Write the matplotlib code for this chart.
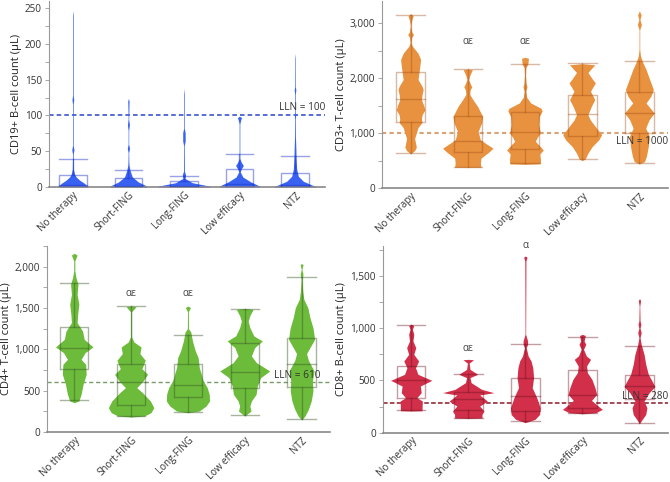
import matplotlib
matplotlib.use("Agg")
import matplotlib.pyplot as plt
import matplotlib.transforms as mtransforms
from matplotlib.ticker import FuncFormatter, MultipleLocator

plt.rcParams["font.family"] = ["Open Sans", "DejaVu Sans"]

groups = ["No therapy", "Short-FING", "Long-FING", "Low efficacy", "NTZ"]

# violin outlines: (count, relative half width)
cd19_shape = [
    [(247, 0), (240, .006), (128, .006), (122, .016), (116, .006), (58, .006), (52, .02), (46, .006),
     (25, .01), (18, .03), (14, .06), (9.7, .12), (5, .21), (1.4, .25), (0, .25)],
    [(124, 0), (120, .012), (95, .005), (87, .018), (79, .005), (60, .005), (54, .02), (48, .005),
     (35, .008), (30, .012), (23, .03), (14, .07), (7, .18), (1.4, .33), (0, .33)],
    [(138, 0), (130, .006), (82, .006), (76, .022), (64, .022), (58, .006), (22, .008), (17, .03),
     (12, .02), (6, .15), (3, .35), (1, .47), (0, .47)],
    [(99, 0), (97, .036), (93, .02), (88, .006), (40, .006), (35, .03), (30, .07), (25, .03),
     (21, .015), (14, .06), (7.3, .2), (1.4, .36), (0, .36)],
    [(187, 0), (180, .005), (140, .006), (136, .015), (130, .006), (104, .006), (100, .012), (95, .006),
     (70, .008), (55, .015), (40, .02), (25, .03), (15, .06), (8, .15), (3, .3), (0, .39)],
]
cd19_box = [(0, 0, 3, 17, 39), (0, 0, 2, 13, 24), (0, 0, 1, 8, 16), (0, 0, 4, 25, 46), (0, 0, 3, 19, 44)]

cd3_shape = [
    [(3170, 0), (3130, .044), (3050, .02), (2950, .006), (2840, .02), (2790, .05), (2740, .02), (2640, .01),
     (2580, .03), (2450, .13), (2337, .175), (2200, .16), (1972, .13), (1850, .2), (1789, .22), (1700, .2),
     (1606, .19), (1500, .23), (1420, .25), (1330, .2), (1250, .19), (1190, .2), (1100, .13), (998, .1),
     (900, .07), (800, .09), (740, .1), (680, .07), (620, 0)],
    [(2160, 0), (2150, .08), (2060, .04), (1972, .015), (1880, .05), (1840, .07), (1780, .04), (1700, .035),
     (1606, .09), (1485, .17), (1302, .26), (1180, .24), (1028, .18), (875, .22), (724, .44), (663, .38),
     (542, .23), (450, .22), (389, .23), (377, .23), (375, 0)],
    [(2375, 0), (2360, .06), (2250, .05), (2190, .015), (2050, .008), (1900, .02), (1840, .035), (1760, .015),
     (1650, .03), (1546, .1), (1450, .28), (1400, .3), (1300, .25), (1150, .24), (1000, .27), (930, .22),
     (850, .18), (740, .28), (690, .32), (620, .26), (520, .27), (440, .27), (430, 0)],
    [(2260, 0), (2240, .22), (2100, .1), (1985, .175), (1911, .23), (1760, .145), (1606, .22), (1485, .16),
     (1333, .1), (1241, .14), (1089, .25), (968, .34), (876, .29), (754, .175), (633, .1), (523, .05),
     (500, 0)],
    [(3220, 0), (3150, .03), (3060, .01), (2970, .035), (2880, .006), (2519, .006), (2397, .02),
     (2306, .05), (2154, .116), (1971, .18), (1789, .245), (1667, .2), (1545, .116), (1363, .26),
     (1241, .17), (1089, .11), (937, .175), (754, .155), (572, .122), (480, .09), (438, 0)],
]
cd3_box = [(633, 1193, 1618, 2106, 3140), (380, 663, 862, 1302, 2160), (450, 706, 1010, 1380, 2260),
           (523, 950, 1338, 1683, 2270), (460, 998, 1363, 1744, 2317)]

cd4_shape = [
    [(2162, 0), (2140, .05), (2070, .01), (1950, .01), (1868, .03), (1787, .065), (1666, .05), (1545, .08),
     (1424, .06), (1323, .05), (1222, .145), (1121, .175), (1029, .33), (960, .19), (879, .12), (819, .2),
     (698, .21), (577, .155), (456, .12), (375, .08), (355, 0)],
    [(1524, 0), (1515, .088), (1456, .01), (1150, .01), (1089, .05), (1029, .175), (948, .155), (867, .25),
     (766, .19), (698, .29), (617, .21), (536, .1), (476, .2), (375, .34), (294, .4), (234, .35),
     (193, .23), (181, 0)],
    [(1524, 0), (1505, .045), (1456, .008), (1250, .01), (1210, .05), (1101, .08), (980, .13), (899, .18),
     (778, .2), (617, .27), (536, .34), (456, .375), (375, .38), (315, .32), (254, .2), (234, 0)],
    [(1495, 0), (1483, .147), (1408, .09), (1343, .06), (1262, .09), (1162, .16), (1101, .31), (1021, .175),
     (920, .117), (839, .205), (738, .44), (658, .28), (557, .22), (456, .2), (375, .117), (315, .09),
     (254, .11), (193, 0)],
    [(2037, 0), (2025, .026), (1968, .006), (1908, .025), (1847, .01), (1706, .02), (1605, .04), (1504, .11),
     (1383, .147), (1262, .2), (1121, .23), (1021, .147), (948, .088), (867, .12), (738, .22), (617, .19),
     (496, .2), (375, .17), (274, .12), (193, .06), (146, 0)],
]
cd4_box = [(383, 758, 1013, 1270, 1807), (193, 326, 610, 827, 1524), (246, 428, 573, 827, 1170),
           (205, 536, 730, 1081, 1483), (161, 548, 825, 1133, 1875)]

cd8_shape = [
    [(1038, 0), (1025, .045), (990, .02), (942, .045), (878, .03), (814, .08), (750, .045), (686, .13),
     (622, .075), (559, .117), (501, .36), (447, .16), (383, .175), (335, .1), (303, .195), (239, .19),
     (210, .19), (207, 0)],
    [(702, 0), (698, .093), (666, .015), (606, .03), (559, .166), (527, .03), (479, .05), (415, .233),
     (383, .45), (361, .2), (303, .335), (255, .2), (207, .277), (175, .24), (140, .24), (137, 0)],
    [(1691, 0), (1680, .03), (1643, .01), (942, .005), (878, .04), (846, .04), (814, .015), (734, .05),
     (686, .1), (622, .13), (527, .145), (431, .12), (335, .2), (239, .26), (175, .25), (128, .17),
     (96, 0)],
    [(942, 0), (930, .05), (878, .03), (846, .06), (798, .02), (734, .07), (702, .143), (638, .073),
     (575, .087), (511, .166), (431, .22), (367, .25), (309, .16), (255, .277), (223, .35), (191, .233),
     (181, 0)],
    [(1283, 0), (1265, .02), (1212, .005), (1069, .01), (1038, .025), (1000, .01), (958, .03), (910, .01),
     (846, .03), (750, .08), (654, .11), (559, .155), (495, .22), (441, .27), (383, .17), (303, .08),
     (239, .13), (175, .11), (128, .05), (87, 0)],
]
cd8_box = [(213, 329, 501, 635, 1028), (144, 220, 320, 392, 565), (112, 207, 351, 527, 852),
           (191, 239, 361, 597, 920), (92, 320, 447, 549, 830)]

# significance marks: group index -> (label, y)
cd3_sig = {1: ("αε", 2671), 2: ("αε", 2671)}
cd4_sig = {1: ("αε", 1678), 2: ("αε", 1678)}
cd8_sig = {1: ("αε", 808), 2: ("α", 1794)}

panels = [
    dict(rect=[49, 1, 276, 186], xlim=(-0.43, 4.54), ylim=(0, 260), major=50, shape=cd19_shape,
         box=cd19_box, color="#3a62f2", edge="#1a34c8", ealpha=0.45,
         ylabel="CD19+ B-cell count (μL)", lln=100, lln_color="#2a44c8", lln_ls=(0, (3, 2)), lln_lw=1.1,
         lln_text="LLN = 100", lln_xy=(4.54, 104), lln_va="bottom", sig={}),
    dict(rect=[382, 1, 286, 187], xlim=(-0.5, 4.5), ylim=(0, 3400), major=1000, shape=cd3_shape,
         box=cd3_box, color="#e8913e", edge="#a0501a", ealpha=0.4,
         ylabel="CD3+ T-cell count (μL)", lln=1000, lln_color="#d8a274", lln_ls=(0, (2, 1.6)), lln_lw=1.5,
         lln_text="LLN = 1000", lln_xy=(4.5, 845), lln_va="center", sig=cd3_sig),
    dict(rect=[47, 246, 283, 186], xlim=(-0.48, 4.5), ylim=(0, 2250), major=500, shape=cd4_shape,
         box=cd4_box, color="#6cbb3a", edge="#3d5a2a", ealpha=0.45,
         ylabel="CD4+ T-cell count (μL)", lln=610, lln_color="#7a9a6a", lln_ls=(0, (3, 2)), lln_lw=1,
         lln_text="LLN = 610", lln_xy=(4.34, 678), lln_va="center", sig=cd4_sig),
    dict(rect=[382.7, 246, 285.3, 186.7], xlim=(-0.5, 4.5), ylim=(0, 1787), major=500, shape=cd8_shape,
         box=cd8_box, color="#d2304a", edge="#6a1020", ealpha=0.4,
         ylabel="CD8+ B-cell count (μL)", lln=280, lln_color="#8a1a2a", lln_ls=(0, (3, 1.5)), lln_lw=1.1,
         lln_text="LLN = 280", lln_xy=(4.5, 342), lln_va="center", sig=cd8_sig),
]

W, H = 670, 482
fig = plt.figure(figsize=(W / 100, H / 100), dpi=100)
shift = mtransforms.ScaledTranslation(4 / 100, 0, fig.dpi_scale_trans)

for p in panels:
    x0, y0, w, h = p["rect"]
    ax = fig.add_axes([x0 / W, 1 - (y0 + h) / H, w / W, h / H])
    for i, prof in enumerate(p["shape"]):
        ys = [v for v, _ in prof]
        ws = [d for _, d in prof]
        ax.fill_betweenx(ys, [i - d for d in ws], [i + d for d in ws], color=p["color"], lw=0, zorder=2)
    bw = 0.25
    for i, (lo, q1, med, q3, hi) in enumerate(p["box"]):
        kw = dict(color=p["edge"], alpha=p["ealpha"], lw=1, zorder=3)
        ax.plot([i - bw, i + bw, i + bw, i - bw, i - bw], [q1, q1, q3, q3, q1], **kw)
        ax.plot([i - bw, i + bw], [med, med], **kw)
        ax.plot([i, i], [q3, hi], **kw)
        ax.plot([i, i], [lo, q1], **kw)
        ax.plot([i - bw, i + bw], [hi, hi], **kw)
        ax.plot([i - bw, i + bw], [lo, lo], **kw)
    ax.axhline(p["lln"], color=p["lln_color"], ls=p["lln_ls"], lw=p["lln_lw"], zorder=1)
    ax.text(p["lln_xy"][0], p["lln_xy"][1], p["lln_text"], ha="right", va=p["lln_va"],
            fontsize=7.2, color="#333333", zorder=5)
    for i, (s, y) in p["sig"].items():
        ax.text(i, y, s, ha="center", va="center", fontsize=7.2, color="#444444", clip_on=False)
    ax.set_xlim(*p["xlim"])
    ax.set_ylim(*p["ylim"])
    ax.yaxis.set_major_locator(MultipleLocator(p["major"]))
    ax.yaxis.set_minor_locator(MultipleLocator(p["major"] / 2))
    ax.yaxis.set_major_formatter(FuncFormatter(lambda v, pos: f"{int(v):,}"))
    ax.set_xticks(range(len(groups)))
    ax.set_xticklabels(groups, rotation=45, ha="right", rotation_mode="anchor", fontsize=7, color="#333333")
    for lab in ax.get_xticklabels():
        lab.set_transform(lab.get_transform() + shift)
    ax.tick_params(axis="x", length=0, pad=2)
    ax.tick_params(axis="y", which="both", direction="out", length=3, width=0.6, color="#999999",
                   labelsize=7.2, labelcolor="#333333", pad=2)
    ax.set_ylabel(p["ylabel"], fontsize=8, color="#222222", labelpad=2)
    for side in ("top", "right"):
        ax.spines[side].set_visible(False)
    ax.spines["left"].set_color("#999999")
    ax.spines["left"].set_linewidth(0.8)
    ax.spines["bottom"].set_color("#888888")
    ax.spines["bottom"].set_linewidth(1.2)

fig.savefig("out.png", dpi=100)
